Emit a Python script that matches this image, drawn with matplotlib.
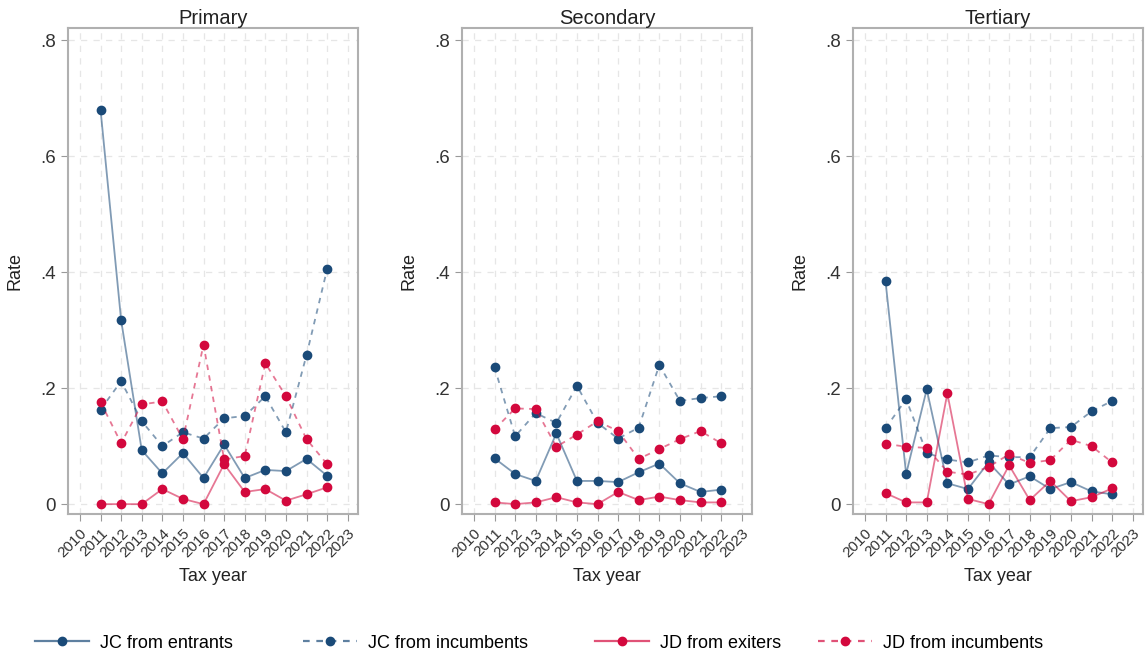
import numpy as np
import matplotlib.pyplot as plt
from matplotlib.ticker import FuncFormatter

plt.rcParams['font.family'] = ['Liberation Sans', 'DejaVu Sans']

years = np.arange(2011, 2023)
panels = ['Primary', 'Secondary', 'Tertiary']

jc_entrants = {
    'Primary':   [0.680, 0.317, 0.093, 0.053, 0.088, 0.045, 0.103, 0.045, 0.059, 0.057, 0.078, 0.049],
    'Secondary': [0.079, 0.052, 0.040, 0.122, 0.040, 0.040, 0.038, 0.055, 0.070, 0.036, 0.021, 0.025],
    'Tertiary':  [0.384, 0.052, 0.198, 0.036, 0.026, 0.072, 0.034, 0.048, 0.026, 0.038, 0.022, 0.017],
}
jc_incumbents = {
    'Primary':   [0.163, 0.212, 0.143, 0.100, 0.124, 0.113, 0.148, 0.152, 0.186, 0.124, 0.257, 0.405],
    'Secondary': [0.236, 0.117, 0.157, 0.140, 0.204, 0.140, 0.113, 0.132, 0.240, 0.178, 0.183, 0.186],
    'Tertiary':  [0.131, 0.181, 0.088, 0.077, 0.072, 0.084, 0.081, 0.081, 0.131, 0.133, 0.160, 0.178],
}
jd_exiters = {
    'Primary':   [0.000, 0.000, 0.000, 0.026, 0.009, 0.000, 0.069, 0.021, 0.026, 0.006, 0.017, 0.029],
    'Secondary': [0.003, 0.000, 0.003, 0.012, 0.003, 0.000, 0.021, 0.007, 0.013, 0.007, 0.003, 0.003],
    'Tertiary':  [0.019, 0.003, 0.003, 0.191, 0.009, 0.000, 0.067, 0.007, 0.040, 0.005, 0.012, 0.027],
}
jd_incumbents = {
    'Primary':   [0.176, 0.105, 0.172, 0.177, 0.112, 0.275, 0.077, 0.083, 0.243, 0.186, 0.112, 0.069],
    'Secondary': [0.129, 0.165, 0.164, 0.099, 0.120, 0.143, 0.126, 0.078, 0.095, 0.112, 0.126, 0.105],
    'Tertiary':  [0.104, 0.099, 0.097, 0.056, 0.051, 0.064, 0.086, 0.071, 0.076, 0.111, 0.100, 0.072],
}

blue = '#1a4a78'
red = '#d3083d'
series = [
    ('JC from entrants', jc_entrants, blue, '-'),
    ('JC from incumbents', jc_incumbents, blue, (0, (3, 3))),
    ('JD from exiters', jd_exiters, red, '-'),
    ('JD from incumbents', jd_incumbents, red, (0, (3, 3))),
]

fig = plt.figure(figsize=(11.48, 6.57), dpi=100)
lefts = [68, 462, 853]
width = 290
handles = []
for i, name in enumerate(panels):
    ax = fig.add_axes([lefts[i] / 1148, 1 - 514 / 657, width / 1148, 486 / 657])
    for label, data, color, ls in series:
        ax.plot(years, data[name], color=color, alpha=0.55, linestyle=ls, linewidth=1.3)
        ax.plot(years, data[name], 'o', color=color, markersize=6, linestyle='none')
        if i == 0:
            handles.append((plt.Line2D([], [], color=color, linestyle=ls, linewidth=1.6, alpha=0.7),
                            plt.Line2D([], [], color=color, marker='o', markersize=6, linestyle='none')))
    ax.set_xlim(2009.42, 2023.5)
    ax.set_ylim(-0.017, 0.821)
    ax.set_xticks(np.arange(2010, 2024))
    ax.set_xticklabels([str(y) for y in range(2010, 2024)], rotation=45, ha='right',
                       rotation_mode='anchor', fontsize=11, color='#333333')
    ax.set_yticks([0, 0.2, 0.4, 0.6, 0.8])
    ax.yaxis.set_major_formatter(FuncFormatter(lambda v, p: '0' if v == 0 else ('%.1f' % v).lstrip('0')))
    ax.tick_params(axis='y', labelsize=13.5, colors='#333333', length=5, color='#999999')
    ax.tick_params(axis='x', length=5, color='#999999')
    ax.grid(True, color='#e6e6e6', linestyle=(0, (5, 5)), linewidth=0.9)
    ax.set_axisbelow(True)
    for s in ax.spines.values():
        s.set_color('#b0b0b0')
        s.set_linewidth(1.5)
    ax.set_title(name, fontsize=14.5, pad=3, color='#222222')
    ax.set_xlabel('Tax year', fontsize=13, color='#222222', labelpad=6)
    ax.set_ylabel('Rate', fontsize=13, color='#222222', labelpad=12)

legend_x = [35, 303, 595, 818]
for (label, data, color, ls), h, x in zip(series, handles, legend_x):
    fig.legend([h], [label], loc='center left', bbox_to_anchor=(x / 1148, 1 - 643 / 657),
               frameon=False, fontsize=13, handlelength=3.0, handletextpad=0.6,
               borderpad=0, borderaxespad=0)

plt.savefig('out.png', dpi=100)
